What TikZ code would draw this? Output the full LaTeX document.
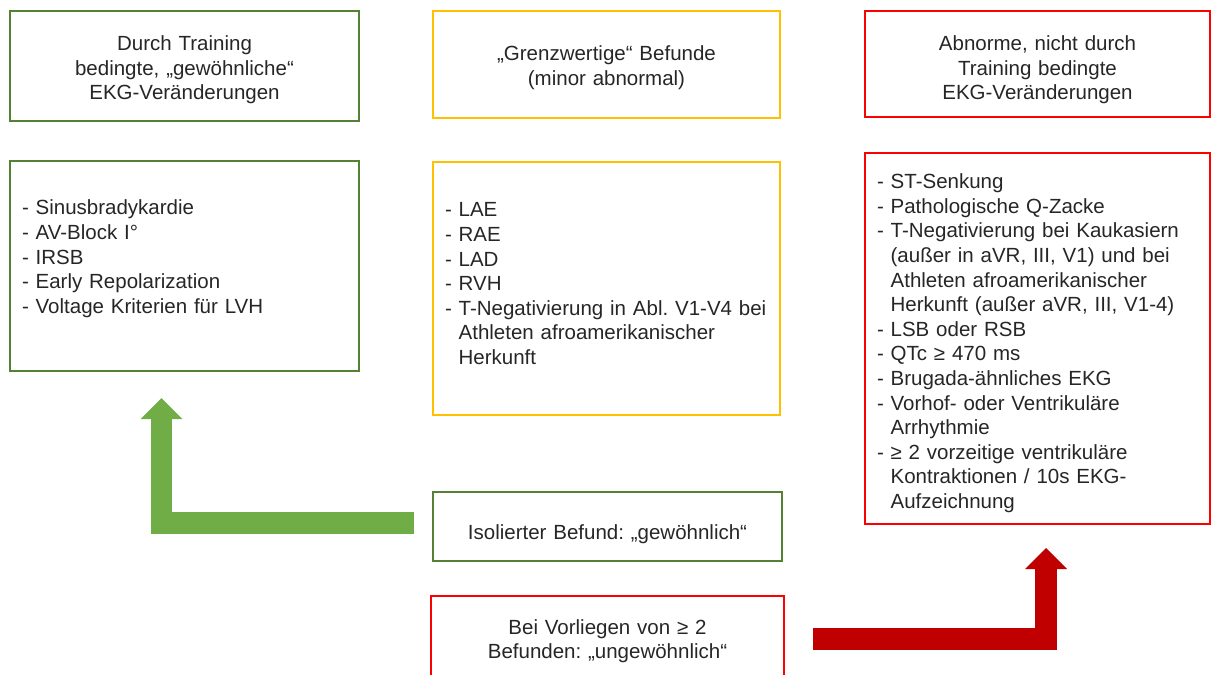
\documentclass[tikz,border=0pt]{standalone}
\usepackage{fontspec}
\setmainfont{Liberation Sans}
\usetikzlibrary{arrows.meta}

\definecolor{gruen}{RGB}{84,130,53}
\definecolor{gelb}{RGB}{255,192,0}
\definecolor{rot}{RGB}{255,0,0}
\definecolor{pfeilgruen}{RGB}{112,173,71}
\definecolor{pfeilrot}{RGB}{192,0,0}

\newcommand{\punkt}[1]{\par\setbox0\hbox{- }\hangindent=\wd0\hangafter=1 - #1}
\newcommand{\tiefer}[1]{\rule{0pt}{#1}}
\frenchspacing

\begin{document}
\begin{tikzpicture}[x=1pt,y=-1pt,
  every node/.style={font=\fontsize{20.5}{24.6}\selectfont, text=black!85},
  kasten/.style={draw=#1, line width=2pt, align=center, inner ysep=0pt, inner xsep=12pt,
    execute at begin node=\parindent0pt},
  liste/.style={kasten=#1, align=left},
  pfeil/.style={line width=21.5pt, -{Triangle[width=42pt,length=21pt,line width=0pt]}}]
\useasboundingbox (0,0) rectangle (1211,675);

%die Kaesten oben
\node [kasten=gruen,text width=325pt,minimum width=349pt,minimum height=110pt] (gruenkopf) at (184.5,66)
  {\tiefer{23pt}Durch Training\\bedingte, „gewöhnliche“\\EKG-Veränderungen};
\node [kasten=gelb,text width=323pt,minimum width=347pt,minimum height=107pt] (gelbkopf) at (606.5,64.5)
  {\tiefer{21pt}„Grenzwertige“ Befunde\\(minor abnormal)};
\node [kasten=rot,text width=321pt,minimum width=345pt,minimum height=106pt] (rotkopf) at (1037.5,64)
  {\tiefer{27pt}Abnorme, nicht durch\\Training bedingte\\EKG-Veränderungen};

%die Listen
\node [liste=gruen,text width=325pt,minimum width=349pt,minimum height=210pt] (gruenliste) at (184.5,266)
  {\punkt{Sinusbradykardie}\punkt{AV-Block I°}\punkt{IRSB}\punkt{Early Repolarization}%
   \punkt{Voltage Kriterien für LVH}\par\vspace*{24pt}};
\node [liste=gelb,text width=323pt,minimum width=347pt,minimum height=253pt] (gelbliste) at (606.5,288.5)
  {\punkt{LAE}\punkt{RAE}\punkt{LAD}\punkt{RVH}%
   \punkt{T-Negativierung in Abl. V1-V4 bei\newline Athleten afroamerikanischer\newline Herkunft}\par\vspace*{20pt}};
\node [liste=rot,text width=321pt,minimum width=345pt,minimum height=371pt] (rotliste) at (1037.5,338.5)
  {\punkt{ST-Senkung}\punkt{Pathologische Q-Zacke}%
   \punkt{T-Negativierung bei Kaukasiern\newline (außer in aVR, III, V1) und bei\newline Athleten afroamerikanischer\newline Herkunft (außer aVR, III, V1-4)}%
   \punkt{LSB oder RSB}\punkt{QTc ≥ 470 ms}\punkt{Brugada-ähnliches EKG}%
   \punkt{Vorhof- oder Ventrikuläre\newline Arrhythmie}%
   \punkt{≥ 2 vorzeitige ventrikuläre\newline Kontraktionen / 10s EKG-\newline Aufzeichnung}\par};

%unten
\node [kasten=gruen,text width=325pt,minimum width=349pt,minimum height=69pt] (isoliert) at (607.5,526.5)
  {\tiefer{31pt}Isolierter Befund: „gewöhnlich“};
\node [kasten=rot,text width=329pt,minimum width=353pt,minimum height=86pt] (haeufung) at (607.5,639)
  {\tiefer{19pt}Bei Vorliegen von ≥ 2\\Befunden: „ungewöhnlich“};

%Pfeile
\draw [pfeil,pfeilgruen] ([xshift=-18pt,yshift=3.5pt]isoliert.west) -| ([xshift=-23pt,yshift=-26pt]gruenliste.south);
\draw [pfeil,pfeilrot] ([xshift=28pt]haeufung.east) -| ([xshift=8.5pt,yshift=-23pt]rotliste.south);

\end{tikzpicture}
\end{document}
